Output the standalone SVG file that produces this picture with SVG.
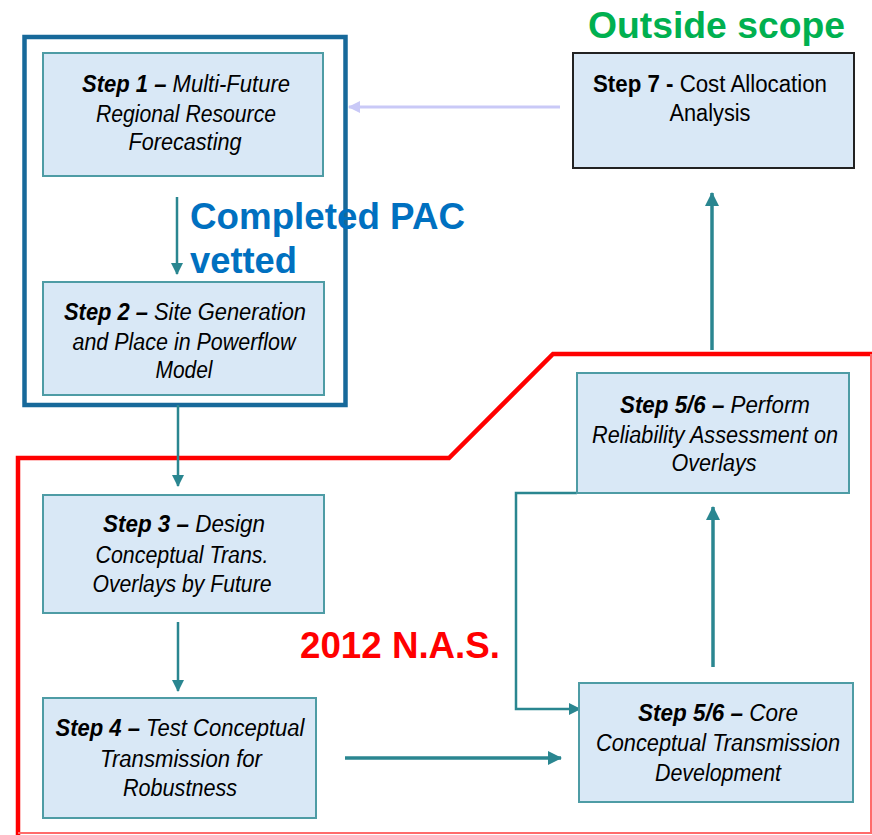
<svg xmlns="http://www.w3.org/2000/svg" width="872" height="835" viewBox="0 0 872 835">
<style>
.box{fill:#d9e8f6;stroke:#4e9ca5;stroke-width:2}
.box7{fill:#d9e8f6;stroke:#222;stroke-width:2}
.t{font-family:"Liberation Sans",Arial,sans-serif;font-size:23px;font-style:italic;fill:#000;text-anchor:middle}
.t7{font-family:"Liberation Sans",Arial,sans-serif;font-size:23px;fill:#000;text-anchor:middle}
.b{font-weight:bold}
.conn{fill:none;stroke:#2a8690;stroke-width:3.5}
.conn2{fill:none;stroke:#2a8690;stroke-width:2.5}
.lbl{font-family:"Liberation Sans",Arial,sans-serif;font-weight:bold;font-size:36px}
</style>
<defs>
<marker id="ah" markerUnits="userSpaceOnUse" markerWidth="14" markerHeight="14" viewBox="0 0 14 14" refX="13" refY="7" orient="auto">
<path d="M0,0 L14,7 L0,14 Z" fill="#2a8690"/>
</marker>
<marker id="ahs" markerUnits="userSpaceOnUse" markerWidth="12" markerHeight="12" viewBox="0 0 12 12" refX="11" refY="6" orient="auto">
<path d="M0,0 L12,6 L0,12 Z" fill="#2a8690"/>
</marker>
<marker id="ahl" markerUnits="userSpaceOnUse" markerWidth="12" markerHeight="12" viewBox="0 0 12 12" refX="11" refY="6" orient="auto">
<path d="M0,0 L12,6 L0,12 Z" fill="#c9c9f7"/>
</marker>
</defs>
<rect width="872" height="835" fill="#fff"/>

<!-- Regions -->
<g id="region-nas">
<path d="M18,835 L18,458 L449,458 L553,354 L872,354" fill="none" stroke="#ff0000" stroke-width="4.5"/>
<path d="M18,833 L871,833 L871,354" fill="none" stroke="#ff6b6b" stroke-width="2"/>
</g>
<g id="region-pac">
<rect x="24.5" y="37" width="321" height="368" fill="none" stroke="#17699a" stroke-width="4.5"/>
</g>

<!-- Connectors -->
<g id="connectors">
<line class="conn2" x1="177" y1="197" x2="177" y2="274" marker-end="url(#ahs)"/>
<line class="conn2" x1="178" y1="405" x2="178" y2="486" marker-end="url(#ahs)"/>
<line class="conn2" x1="178" y1="622" x2="178" y2="691" marker-end="url(#ahs)"/>
<line class="conn" x1="345" y1="758" x2="561" y2="758" marker-end="url(#ah)"/>
<line class="conn" x1="713" y1="667" x2="713" y2="507" marker-end="url(#ah)"/>
<polyline class="conn2" points="577,493 516,493 516,709 580,709" marker-end="url(#ahs)"/>
<line class="conn" x1="712" y1="350" x2="712" y2="193" marker-end="url(#ah)"/>
<line x1="560" y1="107" x2="349" y2="107" stroke="#c9c9f7" stroke-width="3" marker-end="url(#ahl)"/>
</g>

<!-- Nodes -->
<g id="step1">
<rect class="box" x="43" y="53" width="280" height="123"/>
<text class="t" x="186" y="92" textLength="208" lengthAdjust="spacingAndGlyphs"><tspan class="b">Step 1 –</tspan> Multi-Future</text>
<text class="t" x="186" y="122" textLength="180" lengthAdjust="spacingAndGlyphs">Regional Resource</text>
<text class="t" x="185" y="150" textLength="113" lengthAdjust="spacingAndGlyphs">Forecasting</text>
</g>
<g id="step2">
<rect class="box" x="43" y="282" width="281" height="113"/>
<text class="t" x="185" y="320" textLength="242" lengthAdjust="spacingAndGlyphs"><tspan class="b">Step 2 –</tspan> Site Generation</text>
<text class="t" x="184" y="350" textLength="223" lengthAdjust="spacingAndGlyphs">and Place in Powerflow</text>
<text class="t" x="184" y="378" textLength="57" lengthAdjust="spacingAndGlyphs">Model</text>
</g>
<g id="step3">
<rect class="box" x="43" y="495" width="281" height="118"/>
<text class="t" x="184" y="532" textLength="162" lengthAdjust="spacingAndGlyphs"><tspan class="b">Step 3 –</tspan> Design</text>
<text class="t" x="182" y="563" textLength="173" lengthAdjust="spacingAndGlyphs">Conceptual Trans.</text>
<text class="t" x="182" y="592" textLength="179" lengthAdjust="spacingAndGlyphs">Overlays by Future</text>
</g>
<g id="step4">
<rect class="box" x="43" y="698" width="273" height="120"/>
<text class="t" x="180" y="736" textLength="249" lengthAdjust="spacingAndGlyphs"><tspan class="b">Step 4 –</tspan> Test Conceptual</text>
<text class="t" x="181" y="767" textLength="162" lengthAdjust="spacingAndGlyphs">Transmission for</text>
<text class="t" x="180" y="796" textLength="114" lengthAdjust="spacingAndGlyphs">Robustness</text>
</g>
<g id="step56core">
<rect class="box" x="579" y="683" width="274" height="119"/>
<text class="t" x="718" y="721" textLength="160" lengthAdjust="spacingAndGlyphs"><tspan class="b">Step 5/6 –</tspan> Core</text>
<text class="t" x="718" y="751" textLength="244" lengthAdjust="spacingAndGlyphs">Conceptual Transmission</text>
<text class="t" x="718" y="781" textLength="126" lengthAdjust="spacingAndGlyphs">Development</text>
</g>
<g id="step56perform">
<rect class="box" x="577" y="373" width="272" height="120"/>
<text class="t" x="715" y="413" textLength="190" lengthAdjust="spacingAndGlyphs"><tspan class="b">Step 5/6 –</tspan> Perform</text>
<text class="t" x="715" y="443" textLength="246" lengthAdjust="spacingAndGlyphs">Reliability Assessment on</text>
<text class="t" x="714" y="471" textLength="85" lengthAdjust="spacingAndGlyphs">Overlays</text>
</g>
<g id="step7">
<rect class="box7" x="573" y="53" width="281" height="115"/>
<text class="t7" x="710" y="92" textLength="234" lengthAdjust="spacingAndGlyphs"><tspan class="b">Step 7 -</tspan> Cost Allocation</text>
<text class="t7" x="710" y="121" textLength="81" lengthAdjust="spacingAndGlyphs">Analysis</text>
</g>

<!-- Labels -->
<g id="labels">
<text class="lbl" x="588" y="38" fill="#00b050" textLength="257" lengthAdjust="spacingAndGlyphs">Outside scope</text>
<text class="lbl" x="190" y="229" fill="#0070c0" textLength="275" lengthAdjust="spacingAndGlyphs">Completed PAC</text>
<text class="lbl" x="190" y="273" fill="#0070c0" textLength="107" lengthAdjust="spacingAndGlyphs">vetted</text>
<text class="lbl" x="300" y="658" fill="#ff0000" textLength="200" lengthAdjust="spacingAndGlyphs">2012 N.A.S.</text>
</g>
</svg>
